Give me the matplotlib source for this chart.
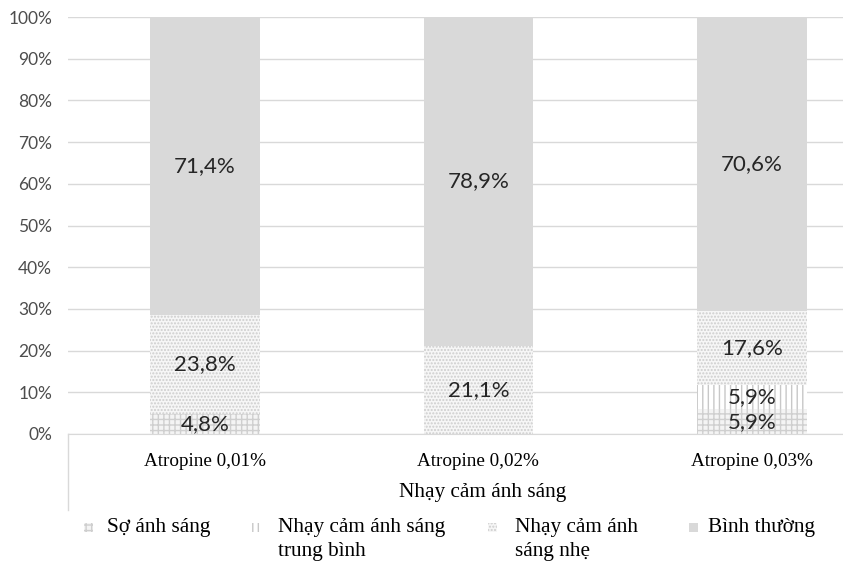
import matplotlib
matplotlib.use("Agg")
import matplotlib.pyplot as plt
from matplotlib.patches import Rectangle
from matplotlib.lines import Line2D
import numpy as np

categories = ["Atropine 0,01%", "Atropine 0,02%", "Atropine 0,03%"]
so_anh_sang = [4.8, 0.0, 5.9]
nhay_cam_trung_binh = [0.0, 0.0, 5.9]
nhay_cam_nhe = [23.8, 21.1, 17.6]
binh_thuong = [71.4, 78.9, 70.6]

series_names = ["Sợ ánh sáng", "Nhạy cảm ánh sáng\ntrung bình",
                "Nhạy cảm ánh\nsáng nhẹ", "Bình thường"]
y_ticks = [0, 10, 20, 30, 40, 50, 60, 70, 80, 90, 100]
x_title = "Nhạy cảm ánh sáng"

styles = [
    dict(facecolor="#f4f4f4", hatch="+++", edgecolor="#cfcfcf"),
    dict(facecolor="white", hatch="|||", edgecolor="#c8c8c8"),
    dict(facecolor="#f6f6f6", hatch=".....", edgecolor="#cdcdcd"),
    dict(facecolor="#d9d9d9", hatch=None, edgecolor="#d9d9d9"),
]

W, H = 843, 561
fig = plt.figure(figsize=(W / 100, H / 100), dpi=100)
ax = fig.add_axes([68 / W, (H - 434) / H, (W - 68) / W, (434 - 17) / H])

x = np.arange(len(categories))
bottom = np.zeros(len(categories))
all_series = [so_anh_sang, nhay_cam_trung_binh, nhay_cam_nhe, binh_thuong]
for vals, st in zip(all_series, styles):
    vals = np.array(vals)
    ax.bar(x, vals, 0.40, bottom=bottom, linewidth=0, zorder=2, **st)
    for xi, b, v in zip(x, bottom, vals):
        if v > 0:
            ax.text(xi, b + v / 2, f"{v:.1f}%".replace(".", ","),
                    ha="center", va="center", fontsize=16, color="#262626",
                    family="Lato", zorder=3)
    bottom = bottom + vals

ax.set_xlim(-0.5, (W - 205) / 273.5)
ax.set_ylim(0, 100)
ax.set_yticks(y_ticks)
ax.set_yticklabels([f"{t}%" for t in y_ticks], family="Lato", fontsize=12.5,
                   color="#4d4d4d")
ax.tick_params(axis="y", length=0, pad=11.5)
ax.set_xticks([])
ax.yaxis.grid(True, color="#d9d9d9", linewidth=1, zorder=0)
ax.set_axisbelow(True)
for s in ["top", "right", "left"]:
    ax.spines[s].set_visible(False)
ax.spines["bottom"].set_color("#d9d9d9")
ax.spines["bottom"].set_zorder(4)

# category labels (data x, figure y) and axis title
tr = matplotlib.transforms.blended_transform_factory(ax.transData, fig.transFigure)
for xi, c in zip(x, categories):
    fig.text(xi, (H - 461) / H, c, transform=tr, ha="center", va="center",
             family="Liberation Serif", fontsize=13.8, color="black")
fig.text(483 / W, (H - 493) / H, x_title, ha="center", va="center",
         family="Liberation Serif", fontsize=15.3, color="black")

# left border of the category area
fig.add_artist(Line2D([68 / W, 68 / W], [(H - 434) / H, (H - 510) / H],
                      color="#d9d9d9", linewidth=1))

# legend
legend_marker_x = [84, 252, 488, 689]
legend_text_x = [107, 278, 515, 708]
for mx, tx, name, st in zip(legend_marker_x, legend_text_x, series_names, styles):
    fig.add_artist(Rectangle((mx / W, (H - 532) / H), 9 / W, 9 / H,
                             transform=fig.transFigure, linewidth=0, **st))
    fig.text(tx / W, (H - 518) / H, name, ha="left", va="top",
             family="Liberation Serif", fontsize=15.3, color="black",
             linespacing=1.33)

fig.savefig("out.png", dpi=100)
